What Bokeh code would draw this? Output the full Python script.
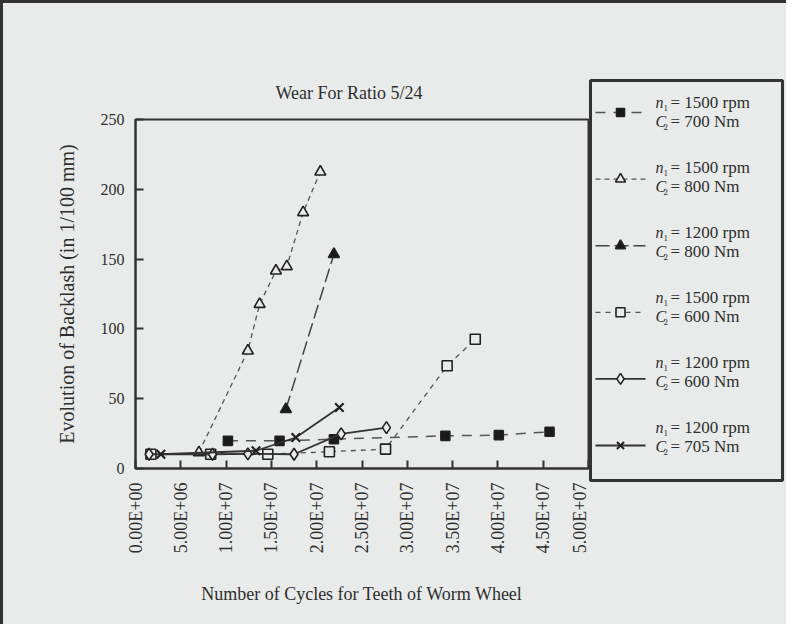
from bokeh.plotting import figure
from bokeh.layouts import row
from bokeh.models import Range1d, FixedTicker, Label
from bokeh.embed import file_html
from bokeh.resources import INLINE
import math

# ---------------- data ----------------
x_ticks = [0, 5000000, 10000000, 15000000, 20000000, 25000000, 30000000,
           35000000, 40000000, 45000000, 50000000]
x_tick_labels = ["0.00E+00", "5.00E+06", "1.00E+07", "1.50E+07", "2.00E+07", "2.50E+07",
                 "3.00E+07", "3.50E+07", "4.00E+07", "4.50E+07", "5.00E+07"]
y_ticks = [0, 50, 100, 150, 200, 250]
y_tick_labels = ["0", "50", "100", "150", "200", "250"]

# n1 = 1500 rpm, C2 = 700 Nm  (filled squares)
s1_x = [10.2e6, 15.9e6, 21.9e6, 34.2e6, 40.1e6, 45.7e6]
s1_y = [19.8, 19.8, 21.0, 23.4, 23.9, 26.3]
# n1 = 1500 rpm, C2 = 800 Nm  (open triangles)
s2_x = [7.0e6, 12.4e6, 13.7e6, 15.5e6, 16.7e6, 18.5e6, 20.4e6]
s2_y = [11.5, 84.3, 117.7, 141.6, 144.7, 183.4, 212.5]
# n1 = 1200 rpm, C2 = 800 Nm  (filled triangles)
s3_x = [16.6e6, 21.9e6]
s3_y = [42.5, 153.5]
# n1 = 1500 rpm, C2 = 600 Nm  (open squares)
s4_x = [1.7e6, 8.3e6, 14.6e6, 21.4e6, 27.6e6, 34.4e6, 37.5e6]
s4_y = [10.2, 10.2, 10.2, 12.0, 13.9, 73.6, 92.6]
# n1 = 1200 rpm, C2 = 600 Nm  (open diamonds)
s5_x = [1.5e6, 8.5e6, 12.4e6, 17.5e6, 22.7e6, 27.7e6]
s5_y = [10.2, 10.2, 10.5, 10.2, 24.8, 29.3]
# n1 = 1200 rpm, C2 = 705 Nm  (crosses)
s6_x = [2.8e6, 13.3e6, 17.7e6, 22.5e6]
s6_y = [10.2, 12.7, 22.2, 43.7]

legend_rpm = ["1500", "1500", "1200", "1500", "1200", "1200"]
legend_nm = ["700", "800", "800", "600", "600", "705"]

title_text = "Wear For Ratio 5/24"
x_label = "Number of Cycles for Teeth of Worm Wheel"
y_label = "Evolution of Backlash (in 1/100 mm)"

# ---------------- style ----------------
BG = "#e8ebe9"
INK = "#2e2e2e"
LINE = "#333333"
FONT = "Liberation Serif"

p = figure(width=586, height=621, x_range=Range1d(0, 5e7), y_range=Range1d(0, 250),
           output_backend="svg", toolbar_location=None,
           min_border_left=132, min_border_right=1, min_border_top=116, min_border_bottom=156,
           background_fill_color=BG, border_fill_color=BG)
p.frame_align = False
p.outline_line_color = LINE
p.outline_line_width = 2
p.xgrid.visible = False
p.ygrid.visible = False

p.title.text = title_text
p.title.text_font = FONT
p.title.text_font_size = "18px"
p.title.text_font_style = "normal"
p.title.text_color = INK
p.title.align = "left"
p.title.offset = 140
p.title.standoff = 34

for ax in (p.xaxis[0], p.yaxis[0]):
    ax.axis_line_color = LINE
    ax.axis_line_width = 2
    ax.major_tick_in = 8
    ax.major_tick_out = 0
    ax.major_tick_line_color = LINE
    ax.major_tick_line_width = 2
    ax.minor_tick_line_color = None
    ax.major_label_text_font = FONT
    ax.major_label_text_font_size = "16px"
    ax.major_label_text_color = INK
    ax.axis_label_text_font = FONT
    ax.axis_label_text_font_style = "normal"
    ax.axis_label_text_color = INK

xa = p.xaxis[0]
xa.ticker = FixedTicker(ticks=x_ticks)
xa.major_label_overrides = dict(zip(x_ticks, x_tick_labels))
xa.major_label_orientation = math.pi / 2
xa.major_label_text_font_size = "18px"
xa.major_label_standoff = 14
xa.axis_label = x_label
xa.axis_label_text_font_size = "18px"
xa.axis_label_standoff = 28

ya = p.yaxis[0]
ya.ticker = FixedTicker(ticks=y_ticks)
ya.major_label_overrides = dict(zip(y_ticks, y_tick_labels))
ya.major_label_standoff = 11
ya.axis_label = y_label
ya.axis_label_text_font_size = "20px"
ya.axis_label_standoff = 20

# ---------------- series ----------------
series = [
    dict(x=s1_x, y=s1_y, marker="square", size=9, fill="#1a1a1a", dash="10 8", lw=1.5, lc="#555555"),
    dict(x=s2_x, y=s2_y, marker="triangle", size=11, fill=BG, dash="5 4", lw=1.3, lc="#555555"),
    dict(x=s3_x, y=s3_y, marker="triangle", size=11, fill="#1a1a1a", dash="14 5", lw=1.5, lc="#444444"),
    dict(x=s4_x, y=s4_y, marker="square", size=10, fill=BG, dash="5 5", lw=1.3, lc="#555555"),
    dict(x=s5_x, y=s5_y, marker="diamond", size=12, fill=BG, dash="solid", lw=1.8, lc=LINE),
    dict(x=s6_x, y=s6_y, marker="x", size=12, fill=None, dash="solid", lw=1.8, lc=LINE),
]

for s in series:
    p.line(s["x"], s["y"], line_color=s["lc"], line_width=s["lw"], line_dash=s["dash"])
    if s["marker"] == "x":
        p.scatter(s["x"], s["y"], marker="x", size=s["size"], line_color="#222222", line_width=2.2)
    else:
        p.scatter(s["x"], s["y"], marker=s["marker"], size=s["size"],
                  fill_color=s["fill"], line_color="#222222", line_width=1.6)

# ---------------- legend panel (its frame is the legend box, 1 unit = 1 px) ----------------
LW, LH = 192, 400
q = figure(width=197, height=621, x_range=Range1d(0, LW), y_range=Range1d(LH, 0),
           output_backend="svg", toolbar_location=None,
           min_border_left=1, min_border_right=4, min_border_top=77, min_border_bottom=144,
           background_fill_color=BG, border_fill_color=BG)
q.frame_align = False
q.axis.visible = False
q.grid.visible = False
q.outline_line_color = LINE
q.outline_line_width = 3

for i, s in enumerate(series):
    cy = 32 + 66.6 * i
    q.line([5, 55], [cy, cy], line_color=s["lc"], line_width=s["lw"], line_dash=s["dash"])
    if s["marker"] == "x":
        q.scatter([30], [cy], marker="x", size=10, line_color="#222222", line_width=2)
    else:
        q.scatter([30], [cy], marker=s["marker"], size=s["size"] - 1,
                  fill_color=s["fill"], line_color="#222222", line_width=1.6)
    yn = 22 + 65 * i
    yc = yn + 19
    for (sym, sub, txt, yy) in (("n", "1", "= %s rpm" % legend_rpm[i], yn),
                                ("C", "2", "= %s Nm" % legend_nm[i], yc)):
        q.add_layout(Label(x=65, y=yy, text=sym, text_font=FONT, text_font_style="italic",
                           text_font_size="16px", text_color=INK, text_baseline="middle"))
        q.add_layout(Label(x=73, y=yy + 5, text=sub, text_font=FONT, text_font_size="9px",
                           text_color=INK, text_baseline="middle"))
        q.add_layout(Label(x=80, y=yy, text=txt, text_font=FONT, text_font_size="17px",
                           text_color=INK, text_baseline="middle"))

layout = row(p, q, spacing=0,
             styles={"border-left": "3px solid #333333", "border-top": "3px solid #333333",
                     "background-color": BG})

open("out.html", "w").write(file_html(layout, INLINE))
